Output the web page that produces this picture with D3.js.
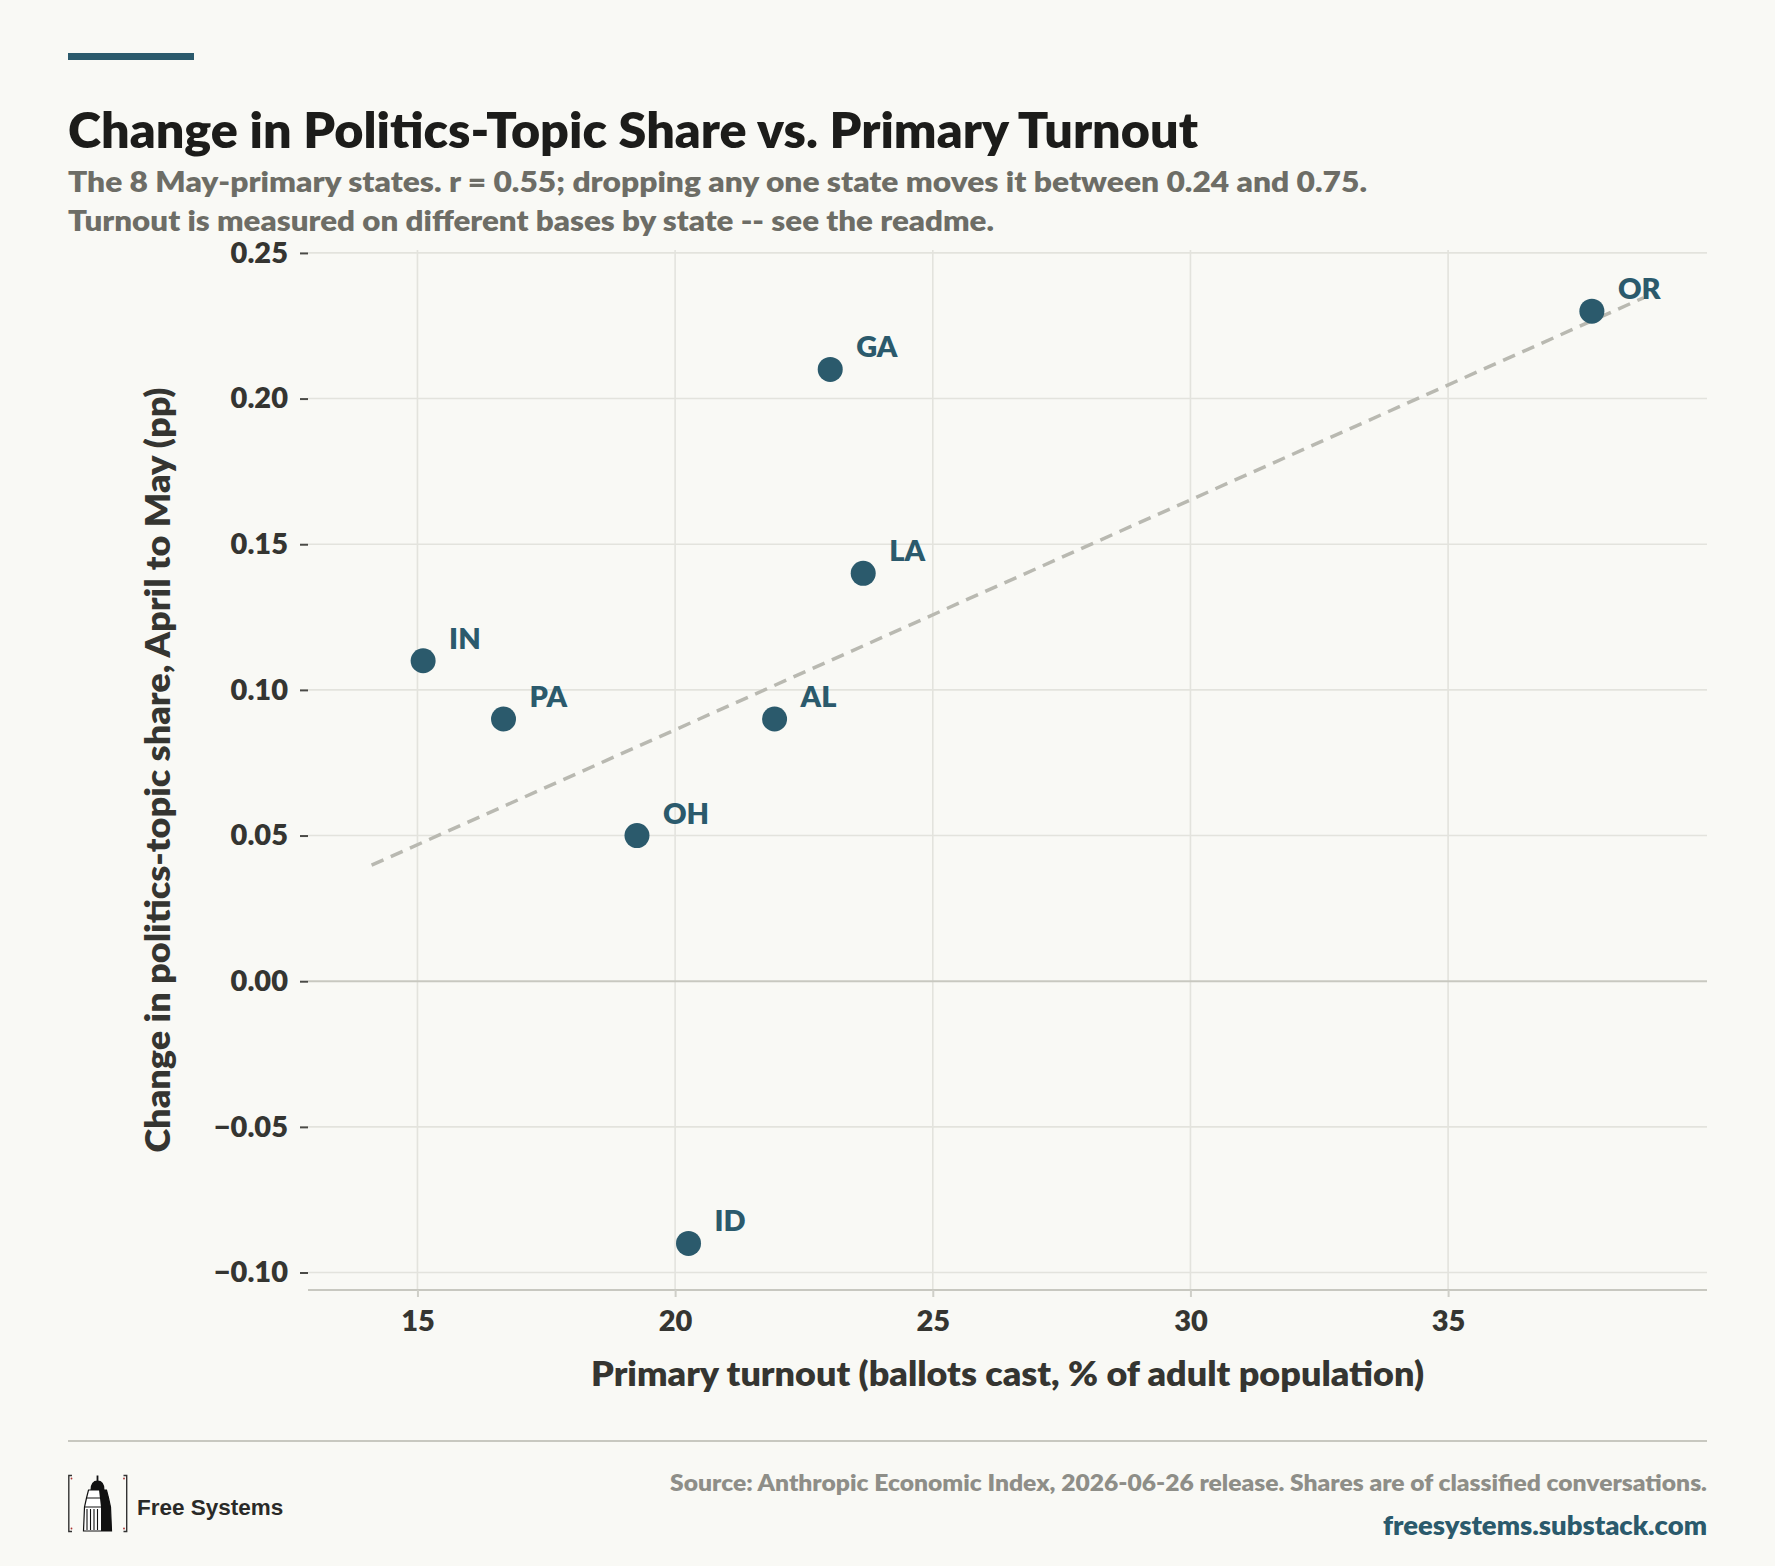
<!DOCTYPE html>
<html>
<head>
<meta charset="utf-8">
<script src="https://cdn.jsdelivr.net/npm/d3@7"></script>
<style>
  body { margin: 0; background: #f9f9f5; }
  svg text { font-family: Lato, "Open Sans", "DejaVu Sans", sans-serif; font-weight: 800; }
</style>
</head>
<body>
<svg id="chart"></svg>
<script>
// Data
const states = ["IN", "PA", "OH", "ID", "AL", "GA", "LA", "OR"];
const turnout = [15.11, 16.67, 19.26, 20.26, 21.93, 23.01, 23.65, 37.79];
const shareChange = [0.11, 0.09, 0.05, -0.09, 0.09, 0.21, 0.14, 0.23];
const xTicks = [15, 20, 25, 30, 35];
const yTicks = [-0.10, -0.05, 0.00, 0.05, 0.10, 0.15, 0.20, 0.25];

const titleText = "Change in Politics-Topic Share vs. Primary Turnout";
const subtitleLines = [
  "The 8 May-primary states. r = 0.55; dropping any one state moves it between 0.24 and 0.75.",
  "Turnout is measured on different bases by state -- see the readme."
];
const xLabel = "Primary turnout (ballots cast, % of adult population)";
const yLabel = "Change in politics-topic share, April to May (pp)";
const sourceText = "Source: Anthropic Economic Index, 2026-06-26 release. Shares are of classified conversations.";
const siteText = "freesystems.substack.com";

const W = 1775, H = 1566;
const margin = { left: 308, right: 68, top: 250, bottom: 276 };
const accent = "#2b5a6c";
const grid = "#e3e3dd";
const axisGrey = "#c8c8c0";
const ink = "#353531";

const points = states.map((s, i) => ({ state: s, x: turnout[i], y: shareChange[i] }));

// Least-squares trend line, drawn one unit past the data on each side
const mx = d3.mean(turnout), my = d3.mean(shareChange);
const slope = d3.sum(points, d => (d.x - mx) * (d.y - my)) / d3.sum(points, d => (d.x - mx) ** 2);
const intercept = my - slope * mx;
const trendX = [d3.min(turnout) - 1, d3.max(turnout) + 1];

const pad = (trendX[1] - trendX[0]) * 0.05;
const x = d3.scaleLinear()
  .domain([trendX[0] - pad, trendX[1] + pad])
  .range([margin.left, W - margin.right]);
const y = d3.scaleLinear()
  .domain([-0.106, 0.251])
  .range([H - margin.bottom, margin.top]);

const svg = d3.select("#chart").attr("width", W).attr("height", H);
svg.append("rect").attr("width", W).attr("height", H).attr("fill", "#f9f9f5");

// Squeeze text into the width it takes in the reference
const fitText = (sel, w) => sel.attr("textLength", w).attr("lengthAdjust", "spacingAndGlyphs");

// Header
svg.append("rect").attr("x", 68).attr("y", 53).attr("width", 126).attr("height", 7).attr("fill", accent);
svg.append("text").attr("x", 68).attr("y", 148)
  .attr("font-size", 49).attr("fill", "#1c1c1a")
  .text(titleText).call(fitText, 1130);
const subWidths = [1299, 926];
subtitleLines.forEach((line, i) => {
  svg.append("text").attr("x", 68).attr("y", 192 + i * 39)
    .attr("font-size", 28).attr("fill", "#6d6d66")
    .text(line).call(fitText, subWidths[i]);
});

// Grid
const plot = svg.append("g");
plot.selectAll(".vgrid").data(xTicks).join("line")
  .attr("class", "vgrid")
  .attr("x1", d => x(d)).attr("x2", d => x(d))
  .attr("y1", margin.top).attr("y2", H - margin.bottom)
  .attr("stroke", grid).attr("stroke-width", 1.6);
plot.selectAll(".hgrid").data(yTicks).join("line")
  .attr("class", "hgrid")
  .attr("x1", margin.left).attr("x2", W - margin.right)
  .attr("y1", d => y(d)).attr("y2", d => y(d))
  .attr("stroke", d => d === 0 ? axisGrey : grid)
  .attr("stroke-width", d => d === 0 ? 2 : 1.6);

// Axes
const xAxis = svg.append("g")
  .attr("transform", `translate(0,${H - margin.bottom})`)
  .call(d3.axisBottom(x).tickValues(xTicks).tickSize(7).tickFormat(d3.format("d")));
xAxis.select(".domain").attr("stroke", axisGrey).attr("stroke-width", 2)
  .attr("d", `M${margin.left},0H${W - margin.right}`);
xAxis.selectAll(".tick line").attr("stroke", "#cfcfc8").attr("stroke-width", 2);
xAxis.selectAll(".tick text")
  .attr("dy", null).attr("y", 41)
  .attr("font-size", 29).attr("fill", ink)
  .style("font-family", "Lato, sans-serif").style("font-weight", 800);

const yAxis = svg.append("g")
  .attr("transform", `translate(${margin.left},0)`)
  .call(d3.axisLeft(y).tickValues(yTicks).tickSize(8).tickPadding(12).tickFormat(d3.format(".2f")));
yAxis.select(".domain").remove();
yAxis.selectAll(".tick line").attr("stroke", "#4a4a46").attr("stroke-width", 2);
yAxis.selectAll(".tick text")
  .attr("font-size", 29).attr("fill", ink)
  .style("font-family", "Lato, sans-serif").style("font-weight", 800);

// Axis titles
svg.append("text")
  .attr("x", (margin.left + W - margin.right) / 2).attr("y", 1386)
  .attr("text-anchor", "middle").attr("font-size", 33).attr("fill", ink)
  .text(xLabel).call(fitText, 833);
svg.append("text")
  .attr("transform", `translate(170,${(margin.top + H - margin.bottom) / 2}) rotate(-90)`)
  .attr("text-anchor", "middle").attr("font-size", 33).attr("fill", ink)
  .text(yLabel).call(fitText, 765);

// Trend line
svg.append("line")
  .attr("x1", x(trendX[0])).attr("y1", y(intercept + slope * trendX[0]))
  .attr("x2", x(trendX[1])).attr("y2", y(intercept + slope * trendX[1]))
  .attr("stroke", "#b9b9b1").attr("stroke-width", 3.5)
  .attr("stroke-dasharray", "13,8");

// Points and labels
const pts = svg.append("g").selectAll("g").data(points).join("g")
  .attr("transform", d => `translate(${x(d.x)},${y(d.y)})`);
pts.append("circle").attr("r", 12.5).attr("fill", accent);
pts.append("text")
  .attr("x", 26).attr("y", -12)
  .attr("font-size", 29).attr("fill", accent)
  .text(d => d.state);

// Footer
svg.append("line")
  .attr("x1", 68).attr("x2", W - margin.right)
  .attr("y1", 1441).attr("y2", 1441)
  .attr("stroke", axisGrey).attr("stroke-width", 2);
svg.append("text").attr("x", W - margin.right).attr("y", 1491)
  .attr("text-anchor", "end").attr("font-size", 22).attr("fill", "#8e8e88")
  .text(sourceText).call(fitText, 1037);
svg.append("text").attr("x", W - margin.right).attr("y", 1535)
  .attr("text-anchor", "end").attr("font-size", 26).attr("fill", accent)
  .text(siteText).call(fitText, 324);

// Logo: bracketed tower
const logo = svg.append("g").attr("transform", "translate(68,1475)");
logo.append("path").attr("d", "M4,0.5H0.8V56.5H4").attr("fill", "none").attr("stroke", "#333").attr("stroke-width", 1.4);
logo.append("path").attr("d", "M55.5,0.5H58.7V56.5H55.5").attr("fill", "none").attr("stroke", "#333").attr("stroke-width", 1.4);
[[3.5, 3.5], [3.5, 53.5], [56, 3.5], [56, 53.5]].forEach(([cx, cy]) => {
  logo.append("circle").attr("cx", cx).attr("cy", cy).attr("r", 0.9).attr("fill", "#a33");
});
logo.append("path").attr("d", "M29.5,0.5V7").attr("stroke", "#111").attr("stroke-width", 1.8);
logo.append("path").attr("d", "M22.5,15Q22.5,5.5 29.5,5.5Q36.5,5.5 36.5,15Z").attr("fill", "#111");
logo.append("path").attr("d", "M20.5,15H38.5L40.5,23L42.5,32L43.5,56H15.5L16.5,32L18.5,23Z")
  .attr("fill", "#fff").attr("stroke", "#111").attr("stroke-width", 1.2);
logo.append("path").attr("d", "M31,15H38.5L40.5,23L42.5,32L43.5,56H33L33,32Z").attr("fill", "#111");
[19, 22.5, 26, 29.5].forEach(lx => {
  logo.append("line").attr("x1", lx).attr("x2", lx).attr("y1", 34).attr("y2", 55)
    .attr("stroke", "#111").attr("stroke-width", 1.1);
});
logo.append("path").attr("d", "M17,32H33M19,23H33").attr("stroke", "#111").attr("stroke-width", 1);
svg.append("text").attr("x", 137).attr("y", 1515)
  .attr("font-size", 22.5).attr("fill", "#2a2a28")
  .style("font-family", "'Liberation Sans', Arial, sans-serif").style("font-weight", 700)
  .text("Free Systems");
</script>
</body>
</html>
